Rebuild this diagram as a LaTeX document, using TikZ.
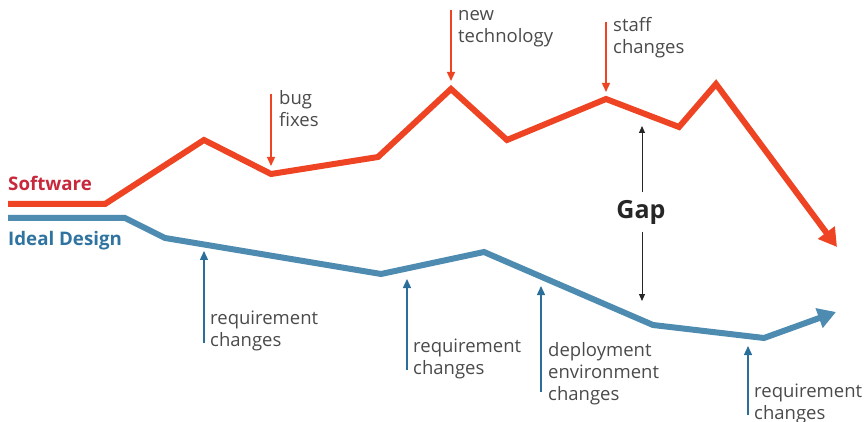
\documentclass[tikz,border=0pt]{standalone}
\usepackage{fontspec}
\setmainfont{Open Sans}
\usetikzlibrary{arrows.meta}
\definecolor{swred}{HTML}{EE4423}
\definecolor{swlabel}{HTML}{C8283C}
\definecolor{idblue}{HTML}{4D8BB0}
\definecolor{idlabel}{HTML}{2F74A0}
\definecolor{notearrow}{HTML}{2A6E99}
\definecolor{notetext}{HTML}{4A4A4A}
\tikzset{
  trend/.style={line width=6pt, line join=miter, -{Triangle[length=18pt,width=20pt]}},
  redpin/.style={swred, line width=1.4pt, -{Triangle[length=9pt,width=8pt]}},
  bluepin/.style={notearrow, line width=1.4pt, -{Triangle[length=9pt,width=8pt]}},
  gappin/.style={black!85, line width=1pt, -{Triangle[length=7pt,width=6pt]}},
  % base anchor of a multi-line note sits on its last line
  note/.style={anchor=base west, align=left, inner sep=0pt, text=notetext,
               font=\fontsize{18.5}{22}\selectfont},
  serieslabel/.style={anchor=base west, inner sep=0pt, font=\fontsize{18.7}{22}\selectfont\bfseries}
}
\begin{document}
\begin{tikzpicture}[x=1pt,y=-1pt]
\useasboundingbox (0,0) rectangle (865,422);

% ideal design trend
\coordinate (i0) at (8,218);
\coordinate (i1) at (125,218);
\coordinate (i2) at (165,238);
\coordinate (i3) at (381,274);
\coordinate (i4) at (484,252);
\coordinate (i5) at (653,325);
\coordinate (i6) at (764,338);
\coordinate (i7) at (836,312);
\draw[trend, idblue] (i0) -- (i1) -- (i2) -- (i3) -- (i4) -- (i5) -- (i6) -- (i7);

% software trend
\coordinate (s0) at (8,204);
\coordinate (s1) at (105,204);
\coordinate (s2) at (204,140);
\coordinate (s3) at (271,174);
\coordinate (s4) at (378,157);
\coordinate (s5) at (451,89);
\coordinate (s6) at (507,140);
\coordinate (s7) at (606,99);
\coordinate (s8) at (679,127);
\coordinate (s9) at (716,84);
\coordinate (s10) at (837,247);
\draw[trend, swred] (s0) -- (s1) -- (s2) -- (s3) -- (s4) -- (s5) -- (s6) -- (s7) -- (s8) -- (s9) -- (s10);

% series labels
\node[serieslabel, text=swlabel] (swname) at (8,191) {Software};
\node[serieslabel, text=idlabel] (idname) at (8,246) {Ideal Design};

% events on the software line
\coordinate (bugtop) at (271,94);
\coordinate (bugtip) at (271,166);
\draw[redpin] (bugtop) -- (bugtip);
\node[note] (bug) at (279,127) {bug\\fixes};

\coordinate (techtop) at (451,10);
\coordinate (techtip) at (451,81);
\draw[redpin] (techtop) -- (techtip);
\node[note] (tech) at (458,43) {new\\technology};

\coordinate (stafftop) at (606,22);
\coordinate (stafftip) at (606,92);
\draw[redpin] (stafftop) -- (stafftip);
\node[note] (staff) at (613,54) {staff\\changes};

% gap marker
\node[font=\fontsize{25}{30}\selectfont\bfseries, text=black!85, inner sep=0pt,
      minimum height=39pt] (gap) at (641,212) {Gap};
\coordinate (gaptop) at (642,126);
\coordinate (gapbot) at (642,301);
\draw[gappin] (gap.north) ++(1,0) -- (gaptop);
\draw[gappin] (gap.south) ++(1,0) -- (gapbot);

% events on the ideal design line
\coordinate (r1low) at (204,343);
\coordinate (r1tip) at (204,251);
\draw[bluepin] (r1low) -- (r1tip);
\node[note] (req1) at (210,346) {requirement\\changes};

\coordinate (r2low) at (407,370);
\coordinate (r2tip) at (407,279);
\draw[bluepin] (r2low) -- (r2tip);
\node[note] (req2) at (413,374) {requirement\\changes};

\coordinate (d1low) at (541,392);
\coordinate (d1tip) at (541,286);
\draw[bluepin] (d1low) -- (d1tip);
\node[note] (deploy) at (548,400) {deployment\\environment\\changes};

\coordinate (r3low) at (748,415);
\coordinate (r3tip) at (748,346);
\draw[bluepin] (r3low) -- (r3tip);
\node[note] (req3) at (754,419) {requirement\\changes};
\end{tikzpicture}
\end{document}
